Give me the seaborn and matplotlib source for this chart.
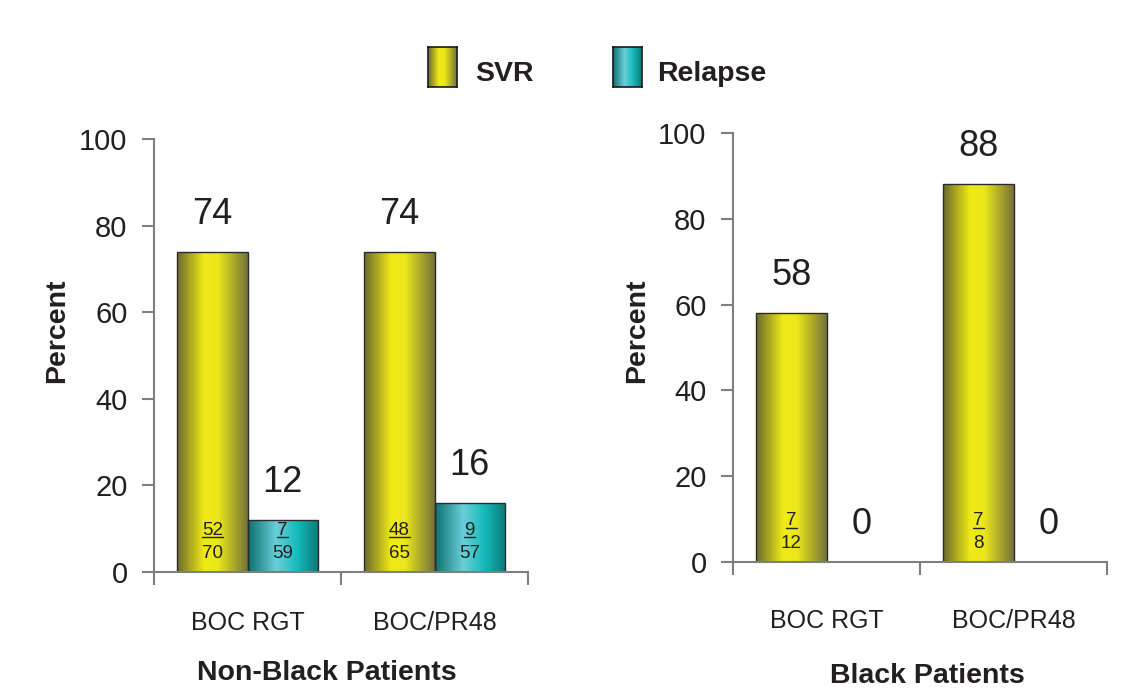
import numpy as np
import pandas as pd
import seaborn as sns
import matplotlib.pyplot as plt
from matplotlib.colors import LinearSegmentedColormap

# data
treatments = ['BOC RGT', 'BOC/PR48']
outcomes = ['SVR', 'Relapse']
nonblack_svr = [74, 74]
nonblack_relapse = [12, 16]
black_svr = [58, 88]
black_relapse = [0, 0]
nonblack_svr_n = [('52', '70'), ('48', '65')]
nonblack_relapse_n = [('7', '59'), ('9', '57')]
black_svr_n = [('7', '12'), ('7', '8')]
black_relapse_n = [None, None]

sns.set_theme(style='white')
plt.rcParams['font.family'] = ['Liberation Sans', 'DejaVu Sans']
NARROW = ['Liberation Sans Narrow', 'Liberation Sans', 'DejaVu Sans']
INK = '#231f20'
AXC = '#7f7f7f'

# bar shading, dark edges and bright middle
cmaps = {
    'SVR': LinearSegmentedColormap.from_list(
        'svr', [(0, '#6a692b'), (0.38, '#f0ea16'), (0.58, '#ebe71c'), (1, '#74723a')]),
    'Relapse': LinearSegmentedColormap.from_list(
        'rel', [(0, '#0e7070'), (0.4, '#6acfd8'), (0.7, '#14baba'), (1, '#0d7776')]),
}
flat = {'SVR': '#e6e21a', 'Relapse': '#3cc3c8'}
grad = np.linspace(0, 1, 256).reshape(1, -1)


def draw_panel(ax, svr, relapse, svr_n, relapse_n, xpad):
    df = pd.DataFrame({
        'treatment': treatments * 2,
        'outcome': ['SVR'] * 2 + ['Relapse'] * 2,
        'percent': svr + relapse,
    })
    sns.barplot(data=df, x='treatment', y='percent', hue='outcome',
                order=treatments, hue_order=outcomes, palette=flat,
                saturation=1, width=0.75, errorbar=None, legend=False,
                edgecolor='#2b2b2b', linewidth=1, ax=ax)
    nums = []
    for cont, name, fracs in zip(ax.containers, outcomes, [svr_n, relapse_n]):
        for bar, frac in zip(cont, fracs):
            x0, w, h = bar.get_x(), bar.get_width(), bar.get_height()
            cx = x0 + w / 2
            if h > 0:
                im = ax.imshow(grad, extent=[x0, x0 + w, 0, h], aspect='auto',
                               cmap=cmaps[name], zorder=1.5)
                im.set_clip_path(bar)
                bar.set_facecolor('none')
                bar.set_zorder(2)
            else:
                bar.set_visible(False)
            ax.annotate(f'{h:.0f}', (cx, h), xytext=(0, 27),
                        textcoords='offset points', ha='center', va='center',
                        fontsize=26, family=NARROW, color=INK)
            if frac:
                t = ax.text(cx, 9.6, frac[0], ha='center', va='center',
                            fontsize=13.5, color=INK, zorder=3)
                ax.text(cx, 4.3, frac[1], ha='center', va='center',
                        fontsize=13.5, color=INK, zorder=3)
                nums.append(t)
    ax.set_xlim(-0.5, 1.5)
    ax.set_ylim(0, 100)
    ax.set_yticks(range(0, 101, 20))
    ax.set_xticks([-0.5, 0.5, 1.5], minor=True)
    ax.tick_params(axis='y', direction='out', length=9, width=1.5, color=AXC,
                   left=True, pad=10, labelsize=21, labelcolor=INK)
    ax.tick_params(axis='x', which='major', length=0, pad=xpad,
                   labelsize=18, labelcolor=INK)
    ax.tick_params(axis='x', which='minor', direction='out', length=9,
                   width=1.5, color=AXC, bottom=True)
    for lab in ax.get_xticklabels() + ax.get_yticklabels():
        lab.set_family(NARROW)
    ax.set_xlabel('')
    ax.set_ylabel('')
    sns.despine(ax=ax)
    for s in ['left', 'bottom']:
        ax.spines[s].set_color(AXC)
        ax.spines[s].set_linewidth(1.5)
    return nums


fig = plt.figure(figsize=(11.42, 6.89), dpi=100)
W, H = 1142, 689
ax1 = fig.add_axes([154 / W, 1 - 572 / H, 374 / W, 433 / H])
ax2 = fig.add_axes([733 / W, 1 - 562 / H, 374 / W, 429 / H])

nums1 = draw_panel(ax1, nonblack_svr, nonblack_relapse, nonblack_svr_n, nonblack_relapse_n, 28)
nums2 = draw_panel(ax2, black_svr, black_relapse, black_svr_n, black_relapse_n, 34)

# underline the numerators
fig.canvas.draw()
for ax, nums in [(ax1, nums1), (ax2, nums2)]:
    inv = ax.transData.inverted()
    for t in nums:
        bb = t.get_window_extent()
        (xa, ya), (xb, _) = inv.transform([(bb.x0, bb.y0 + 1.5), (bb.x1, bb.y0 + 1.5)])
        ax.plot([xa, xb], [ya, ya], color=INK, lw=1, zorder=3)

# axis titles
bold = dict(fontsize=20.5, fontweight='bold', color=INK)
fig.text(57 / W, 1 - 331 / H, 'Percent', rotation=90, ha='center', va='center', **bold)
fig.text(637 / W, 1 - 331 / H, 'Percent', rotation=90, ha='center', va='center', **bold)
fig.text(327 / W, 1 - 673 / H, 'Non-Black Patients', ha='center', va='center', **bold)
fig.text(927 / W, 1 - 676 / H, 'Black Patients', ha='center', va='center', **bold)

# legend
for name, x_sw, x_txt in [('SVR', 428, 475), ('Relapse', 613, 657)]:
    sw = fig.add_axes([x_sw / W, 1 - 87 / H, 29 / W, 40 / H])
    sw.imshow(grad, aspect='auto', cmap=cmaps[name], extent=[0, 1, 0, 1])
    sw.set_xticks([])
    sw.set_yticks([])
    for s in sw.spines.values():
        s.set_color('#1a1a1a')
        s.set_linewidth(1.2)
    fig.text(x_txt / W, 1 - 74 / H, name, ha='left', va='center', **bold)

fig.savefig('out.png', dpi=100)
